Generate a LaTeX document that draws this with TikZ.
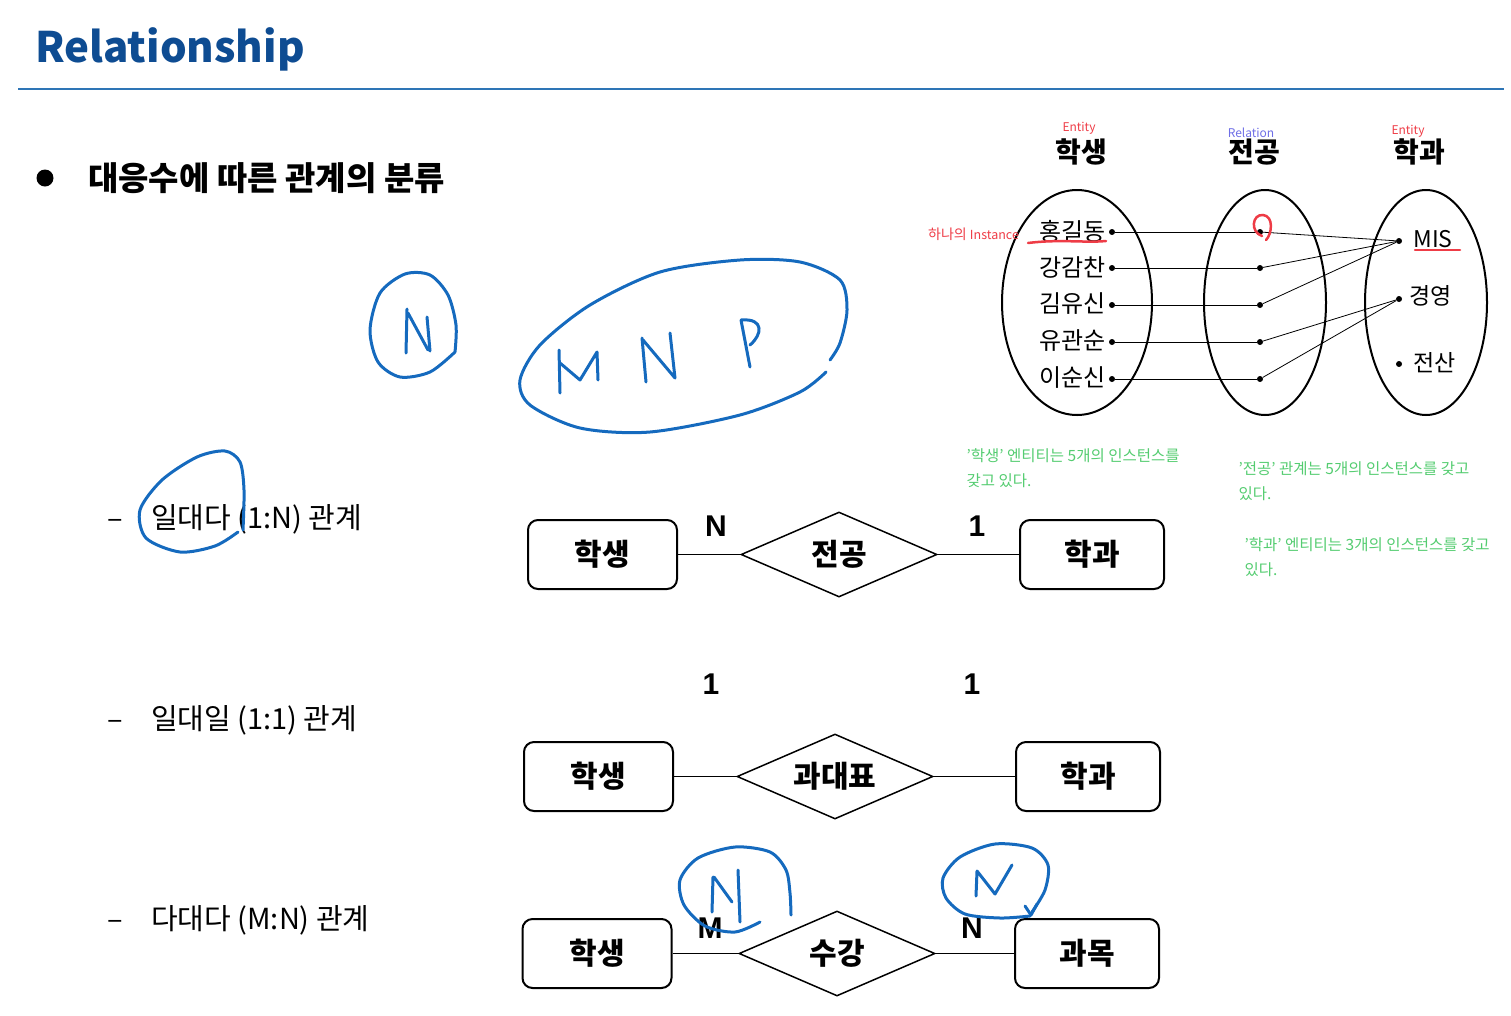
\documentclass[tikz,border=0pt]{standalone}
\usepackage{fontspec}
\setmainfont{Noto Sans CJK KR}
\newfontfamily\cardfont{Liberation Sans}
\usetikzlibrary{shapes.geometric,positioning}
\definecolor{titleblue}{RGB}{14,76,146}
\definecolor{rulecol}{RGB}{46,117,182}
\definecolor{penblue}{RGB}{21,106,190}
\definecolor{notegreen}{RGB}{84,204,112}
\definecolor{notered}{RGB}{238,60,70}
\definecolor{relblue}{RGB}{110,110,230}
\newcommand{\fs}[1]{\fontsize{#1}{1.25\dimexpr#1pt\relax}\selectfont}
\tikzset{ent/.style={draw,line width=2pt,rounded corners=10pt,minimum width=149pt,minimum height=69pt,inner sep=0pt,font=\fs{30}\bfseries},
  rel/.style={draw,diamond,line width=1.5pt,minimum width=196pt,minimum height=85pt,inner sep=0pt,aspect=2.3,font=\fs{30}\bfseries},
  card/.style={font=\cardfont\fs{30}\bfseries},link/.style={line width=1.5pt},
  item/.style={anchor=west,font=\fs{29}},
  inst/.style={anchor=east,inner sep=1pt,font=\fs{24}},
  pt/.style={circle,fill,inner sep=0pt,minimum size=6pt},
  set/.style={draw,line width=2pt},thin link/.style={line width=.8pt},
  note/.style={anchor=west,align=left,notegreen,font=\fs{15.5}},
  pen/.style={penblue,line width=3pt,line cap=round,line join=round},
  redpen/.style={notered,line width=2.5pt,line cap=round}}
\begin{document}
\begin{tikzpicture}[x=1pt,y=-1pt]
\useasboundingbox (0,0) rectangle (1511,1015);
% title and rule
\node[anchor=base west,inner sep=0pt,titleblue,font=\fs{42}\bfseries] (title) at (35,62){Relationship};
\draw[rulecol,line width=2pt] (18,89)--(1504,89);
\node[circle,fill,inner sep=0pt,minimum size=17pt] (bul) at (45,178){};
\node[anchor=west,inner sep=0pt,font=\fs{33}\bfseries] (head) at (88,178){대응수에 따른 관계의 분류};
\node[item] (i1) at (104,519){–\hspace{28pt}일대다 (1:N) 관계};
\node[item] (i2) at (104,720){–\hspace{28pt}일대일 (1:1) 관계};
\node[item] (i3) at (104,920){–\hspace{28pt}다대다 (M:N) 관계};

% one to many
\node[ent] (s1) at (602.5,554.5){학생};\node[rel] (r1) at (839,554.5){전공};\node[ent,minimum width=144pt] (d1) at (1092,554.5){학과};
\draw[link] (s1)--(r1);\draw[link] (r1)--(d1);
\node[card] at (716,526){N};\node[card] at (977,526){1};
% one to one
\node[ent] (s2) at (598.5,776.5){학생};\node[rel] (r2) at (835,776.5){과대표};\node[ent,minimum width=144pt] (d2) at (1088,776.5){학과};
\draw[link] (s2)--(r2);\draw[link] (r2)--(d2);
\node[card] at (711,684){1};\node[card] at (972,684){1};
% many to many
\node[ent] (s3) at (597,953.5){학생};\node[rel] (r3) at (837,953.5){수강};\node[ent,minimum width=144pt] (c3) at (1087,953.5){과목};
\draw[link] (s3)--(r3);\draw[link] (r3)--(c3);
\node[card] at (710,928){M};\node[card] at (972,928){N};

% instance sets
\draw[set] (1077,302.5) ellipse (75 and 112.5);
\draw[set] (1265,302.5) ellipse (61 and 112.5);
\draw[set] (1426,302.5) ellipse (61 and 112.5);
\node[font=\fs{28}\bfseries] (h1) at (1081,152){학생};\node[font=\fs{28}\bfseries] (h2) at (1254,152){전공};\node[font=\fs{28}\bfseries] (h3) at (1419,152){학과};
\node[notered,font=\fs{12}] at (1079,128){Entity};\node[relblue,font=\fs{12}] at (1251,133){Relation};\node[notered,font=\fs{12}] at (1408,131){Entity};
\foreach \n/\y [count=\k] in {홍길동/231,강감찬/267,김유신/304,유관순/341,이순신/378}{
  \node[pt] (a\k) at (1112,\y+1){};\node[inst] (t\k) at (1107,\y){\n};
  \node[pt] (b\k) at (1260,\y+1){};\draw[thin link] (a\k)--(b\k);}
\node[pt] (m1) at (1399,241){};\node[pt] (m2) at (1399,299){};\node[pt] (m3) at (1399,364){};
\node[anchor=west,font=\fs{23}] at (1410,239){MIS};\node[anchor=west,font=\fs{23}] at (1406,296){경영};\node[anchor=west,font=\fs{23}] at (1410,363){전산};
\foreach \p/\q in {b1/m1,b2/m1,b3/m1,b4/m2,b5/m2}{\draw[thin link] (\p)--(\q);}

% notes
\node[notered,anchor=west,inner sep=0pt,font=\fs{14}] at (928,234){하나의 {\fs{12.5}Instance}};
\draw[redpen] (1028,243) .. controls (1060,239) and (1085,243) .. (1106,241);\draw[redpen] (1415,250)--(1460,250);
\draw[redpen] (1262,236) .. controls (1250,232) and (1252,214) .. (1263,215) .. controls (1274,216) and (1272,234) .. (1266,240);
\node[note] at (963,468){'학생' 엔티티는 5개의 인스턴스를\\[5pt]갖고 있다.};
\node[note] at (1235,481){'전공' 관계는 5개의 인스턴스를 갖고\\[5pt]있다.};
\node[note] at (1241,557){'학과' 엔티티는 3개의 인스턴스를 갖고\\[5pt]있다.};

% pen marks
\draw[pen] plot[smooth] coordinates {(455,352) (430,372) (400,377) (378,362) (370,330) (380,293) (405,274) (430,275) (448,295) (456,325) (455,352)};
\draw[pen] (406,353)--(407,309) (408,313)--(428,350) (427,317)--(430,351);
\draw[pen] plot[smooth] coordinates {(826,372) (800,392) (740,415) (650,432) (580,428) (530,405) (520,380) (540,345) (590,305) (660,272) (740,260) (800,262) (840,280) (847,310) (840,343) (830,360)};
\draw[pen] (559,350)--(560,393) (560,363)--(580,380)--(597,352)--(598,380);
\draw[pen] (642,338)--(646,382) (643,340)--(675,378)--(670,333);
\draw[pen] (741,320)--(750,367) (741,320) .. controls (765,318) and (762,335) .. (750,345);
\draw[pen] plot[smooth] coordinates {(243,530) (244,490) (240,462) (225,451) (197,457) (162,480) (140,510) (146,538) (180,552) (215,546) (238,532)};
\draw[pen] plot[smooth] coordinates {(760,922) (735,932) (705,926) (684,905) (680,880) (698,858) (735,847) (770,852) (786,870) (790,893) (791,915)};
\draw[pen] (712,912)--(713,877) (714,877)--(732,902) (738,870)--(740,922);
\draw[pen] plot[smooth] coordinates {(1030,916) (1000,918) (965,914) (946,898) (943,878) (960,857) (995,844) (1032,848) (1048,865) (1045,890) (1032,912)};
\draw[pen] (1025,906)--(1031,915)--(1037,904);
\draw[pen] (976,896)--(977,871) (977,871)--(995,894)--(1012,865);
\end{tikzpicture}
\end{document}
